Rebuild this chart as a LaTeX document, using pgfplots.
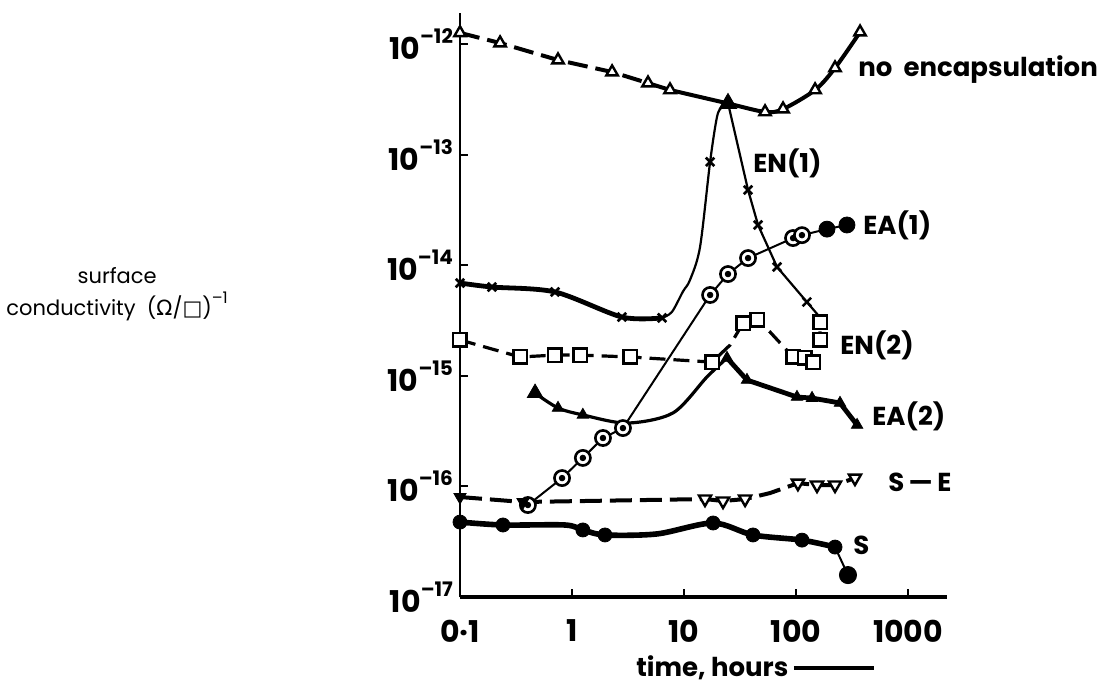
\documentclass[border=0pt]{standalone}
\usepackage{pgfplots}
\pgfplotsset{compat=1.18}
\usepackage{fontspec}
\setmainfont{Poppins}
\newfontfamily\dv{DejaVu Sans}
\newcommand{\tl}[1]{10\raisebox{8pt}{\fontsize{10}{10}\selectfont –#1}}
\begin{document}
\begin{tikzpicture}
\begin{axis}[
  scale only axis, width=243.5pt, height=292pt,
  xmode=log, ymode=log,
  xmin=0.1, xmax=2228, ymin=1e-17, ymax=1.905e-12,
  axis x line*=bottom, axis y line*=left,
  x axis line style={line width=2.2pt,-},
  y axis line style={line width=1.2pt,-},
  xminorticks=false, yminorticks=false,
  xtick={0.1,1,10,100,1000}, xticklabels={0·1,1,10,100,1000},
  ytick={1e-17,1e-16,1e-15,1e-14,1e-13,1e-12},
  yticklabels={\tl{17},\tl{16},\tl{15},\tl{14},\tl{13},\tl{12}},
  tick align=inside, major tick length=4pt,
  tick style={black, line width=1pt},
  ticklabel style={font=\bfseries\fontsize{15}{15}\selectfont},
  xticklabel style={yshift=-8pt},
  xlabel={time,\ hours\ \rule[0.45ex]{40pt}{2pt}},
  xlabel style={at={(rel axis cs:0.606,-0.1216)}, anchor=center, font=\bfseries\fontsize{13}{13}\selectfont},
  ylabel={surface\\conductivity\ \ ({\dv Ω}/{\dv □})\raisebox{6pt}{\fontsize{8}{8}\selectfont –1}},
  ylabel style={rotate=-90, at={(rel axis cs:-0.704,0.519)}, anchor=center, align=center, font=\fontsize{10.5}{16}\selectfont},
  clip=false,
]
% ---------- no encapsulation ----------
\addplot[black, line width=2pt, dash pattern=on 10pt off 4pt] coordinates {(0.1,1.26e-12) (0.228,1.02e-12) (0.75,7.16e-13) (2.28,5.58e-13) (4.77,4.43e-13) (7.5,3.84e-13)};
\addplot[black, line width=2pt, smooth, tension=0.5] coordinates {(7.5,3.84e-13) (24.7,2.90e-13) (52.9,2.43e-13) (76.6,2.58e-13) (148,3.84e-13) (223,6.07e-13) (373,1.28e-12)};
\addplot[only marks, mark=triangle*, mark size=3.3pt, mark options={fill=white, draw=black, line width=1.2pt}] coordinates {(0.1,1.26e-12) (0.228,1.02e-12) (0.75,7.16e-13) (2.28,5.58e-13) (4.77,4.43e-13) (7.5,3.84e-13) (52.9,2.43e-13) (76.6,2.58e-13) (148,3.84e-13) (223,6.07e-13) (373,1.28e-12)};
\addplot[only marks, mark=triangle*, mark size=5pt, black] coordinates {(24.7,2.90e-13)};
% ---------- EN(1) ----------
\addplot[black, line width=2.4pt, smooth, tension=0.5] coordinates {(0.1,6.90e-15) (0.193,6.35e-15) (0.705,5.73e-15) (2.79,3.40e-15) (6.37,3.34e-15)};
\addplot[black, line width=1.1pt, smooth, tension=0.5] coordinates {(6.37,3.34e-15) (7.8,3.78e-15) (9.8,5.8e-15) (11.3,7.34e-15) (13.9,1.46e-14) (17.1,8.6e-14) (19.7,2.19e-13) (21.8,2.69e-13) (24.7,2.93e-13)};
\addplot[black, line width=1.1pt] coordinates {(24.7,2.93e-13) (37.3,4.79e-14) (45.8,2.31e-14) (67.7,9.64e-15) (125,4.65e-15) (157,3.55e-15)};
\addplot[only marks, mark=x, mark size=3pt, mark options={line width=1.3pt}] coordinates {(0.1,6.9e-15) (0.193,6.35e-15) (0.705,5.73e-15) (2.79,3.4e-15) (6.37,3.34e-15) (17.1,8.6e-14) (37.3,4.79e-14) (45.8,2.31e-14) (67.7,9.64e-15) (125,4.65e-15)};
% ---------- EN(2) ----------
\addplot[black, line width=1.6pt, dash pattern=on 8pt off 4pt] coordinates {(0.1,2.11e-15) (0.344,1.48e-15) (0.705,1.54e-15) (1.18,1.54e-15) (3.30,1.48e-15) (17.8,1.33e-15) (25.8,1.90e-15) (33.7,3.00e-15) (44.9,3.20e-15) (58.6,2.49e-15) (94.1,1.48e-15) (120,1.45e-15) (142,1.33e-15) (164,2.11e-15) (164,3.06e-15)};
\addplot[only marks, mark=square*, mark size=3.4pt, mark options={fill=white, draw=black, line width=1.3pt, solid}] coordinates {(0.1,2.11e-15) (0.344,1.48e-15) (0.705,1.54e-15) (1.18,1.54e-15) (3.30,1.48e-15) (17.8,1.33e-15) (33.7,3.00e-15) (44.9,3.20e-15) (94.1,1.48e-15) (120,1.45e-15) (142,1.33e-15) (164,2.11e-15) (164,3.06e-15)};
% ---------- EA(2) ----------
\addplot[black, line width=1.6pt, smooth, tension=0.5] coordinates {(0.468,6.98e-16) (0.75,5.12e-16) (1.25,4.43e-16) (3.10,3.74e-16) (7.98,4.62e-16) (16.0,9.75e-16) (24.2,1.45e-15)};
\addplot[black, line width=2.4pt] coordinates {(24.2,1.45e-15) (36.5,9.16e-16) (102,6.43e-16) (139,6.29e-16) (247,5.68e-16) (351,3.59e-16)};
\addplot[only marks, mark=triangle*, mark size=3.3pt, black] coordinates {(0.75,5.12e-16) (1.25,4.43e-16) (24.2,1.45e-15) (36.5,9.16e-16) (102,6.43e-16) (139,6.29e-16) (247,5.68e-16) (351,3.59e-16)};
\addplot[only marks, mark=triangle*, mark size=4.5pt, black] coordinates {(0.468,6.98e-16)};
% ---------- EA(1) ----------
\addplot[black, line width=1pt] coordinates {(0.404,6.79e-17) (0.815,1.19e-16) (1.25,1.81e-16) (1.89,2.74e-16) (2.85,3.37e-16) (17.1,5.38e-15) (24.7,8.32e-15) (37.3,1.16e-14) (94.1,1.76e-14) (113,1.87e-14) (189,2.12e-14) (285,2.31e-14)};
\addplot[only marks, mark=*, mark size=3.8pt, mark options={fill=white, draw=black, line width=1.3pt}] coordinates {(0.404,6.79e-17) (0.815,1.19e-16) (1.25,1.81e-16) (1.89,2.74e-16) (2.85,3.37e-16) (17.1,5.38e-15) (24.7,8.32e-15) (37.3,1.16e-14) (94.1,1.76e-14) (113,1.87e-14)};
\addplot[only marks, mark=*, mark size=1.4pt, black] coordinates {(0.404,6.79e-17) (0.815,1.19e-16) (1.25,1.81e-16) (1.89,2.74e-16) (2.85,3.37e-16) (17.1,5.38e-15) (24.7,8.32e-15) (37.3,1.16e-14) (94.1,1.76e-14) (113,1.87e-14)};
\addplot[only marks, mark=*, mark size=4pt, black] coordinates {(189,2.12e-14) (285,2.31e-14)};
% ---------- S-E ----------
\addplot[black, line width=2pt, dash pattern=on 11pt off 4pt] coordinates {(0.1,8.02e-17) (0.365,7.23e-17) (15.4,7.69e-17) (22.3,7.38e-17) (35.1,7.69e-17) (58.6,8.71e-17) (104,1.07e-16) (154,1.03e-16) (223,1.03e-16) (336,1.19e-16)};
\addplot[only marks, mark=triangle*, mark size=3.5pt, mark options={rotate=180, fill=white, draw=black, line width=1.2pt}] coordinates {(15.4,7.69e-17) (22.3,7.38e-17) (35.1,7.69e-17) (104,1.07e-16) (154,1.03e-16) (223,1.03e-16) (336,1.19e-16)};
\addplot[only marks, mark=triangle*, mark size=3.5pt, mark options={rotate=180}, black] coordinates {(0.1,8.02e-17) (0.365,7.23e-17)};
% ---------- S ----------
\addplot[black, line width=2.8pt, smooth, tension=0.5] coordinates {(0.1,4.76e-17) (0.242,4.48e-17) (0.866,4.48e-17) (1.25,4.04e-17) (1.97,3.64e-17) (5.74,3.72e-17) (18.2,4.67e-17) (41.3,3.64e-17) (113,3.27e-17) (223,2.83e-17)};
\addplot[black, line width=1pt] coordinates {(223,2.83e-17) (291,1.58e-17)};
\addplot[only marks, mark=*, mark size=3.5pt, black] coordinates {(0.1,4.76e-17) (0.242,4.48e-17) (1.25,4.04e-17) (1.97,3.64e-17) (18.2,4.67e-17) (41.3,3.64e-17) (113,3.27e-17) (223,2.83e-17)};
\addplot[only marks, mark=*, mark size=4.3pt, black] coordinates {(291,1.58e-17)};
% ---------- labels ----------
\begin{scope}[every node/.style={anchor=west, inner sep=0pt, font=\bfseries\fontsize{13}{13}\selectfont}]
\node at (axis cs:358,5.82e-13) {no\ \ encapsulation};
\node at (axis cs:41.3,8.39e-14) {EN(1)};
\node at (axis cs:396,2.31e-14) {EA(1)};
\node at (axis cs:247,1.90e-15) {EN(2)};
\node at (axis cs:477,4.34e-16) {EA(2)};
\node at (axis cs:663,1.10e-16) {S\,—\,E};
\node at (axis cs:323,2.95e-17) {S};
\end{scope}
\coordinate (bbl) at (rel axis cs:-0.9446,-0.1524);
\coordinate (btr) at (rel axis cs:1.3532,1.0223);
\end{axis}
\pgfresetboundingbox
\path[use as bounding box] (bbl) rectangle (btr);
\end{tikzpicture}
\end{document}
